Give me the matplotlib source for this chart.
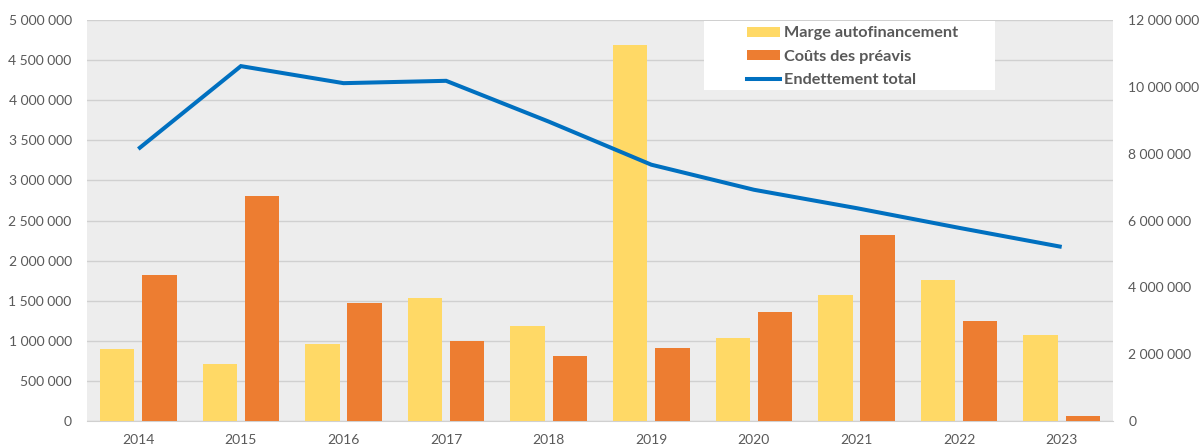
import matplotlib
matplotlib.use("Agg")
import matplotlib.pyplot as plt
import numpy as np
from matplotlib.patches import Patch, Rectangle
from matplotlib.lines import Line2D
from matplotlib.ticker import FuncFormatter, MultipleLocator

years = ["2014", "2015", "2016", "2017", "2018", "2019", "2020", "2021", "2022", "2023"]
marge = [898000, 716000, 954000, 1537000, 1190000, 4690000, 1040000, 1570000, 1760000, 1070000]
couts = [1816000, 2810000, 1466000, 995000, 808000, 912000, 1360000, 2320000, 1250000, 63000]
endettement = [8140000, 10620000, 10110000, 10180000, 8960000, 7670000, 6920000, 6370000, 5780000, 5210000]

C_YEL = "#FFD966"
C_ORA = "#ED7D31"
C_BLU = "#0070C0"
C_TXT = "#595959"
FONT = "Lato"

plt.rcParams["font.family"] = [FONT, "DejaVu Sans"]

fig = plt.figure(figsize=(12, 4.48), dpi=100)
ax = fig.add_axes([87/1200, 27/448, 1026/1200, 401/448])
ax2 = ax.twinx()

x = np.arange(len(years))
w = 0.335
ax.set_facecolor("#EDEDED")
ax.bar(x - 0.205, marge, w, color=C_YEL, zorder=3)
ax.bar(x + 0.205, couts, w, color=C_ORA, zorder=3)
ax2.plot(x, endettement, color=C_BLU, lw=2.9, solid_capstyle="butt", solid_joinstyle="miter", zorder=4)

ax.set_xlim(-0.5, len(years) - 0.5)
ax.set_ylim(0, 5000000)
ax2.set_ylim(0, 12000000)
ax.yaxis.set_major_locator(MultipleLocator(500000))
ax2.yaxis.set_major_locator(MultipleLocator(2000000))
fmt = FuncFormatter(lambda v, p: f"{int(round(v)):,}".replace(",", " "))
ax.yaxis.set_major_formatter(fmt)
ax2.yaxis.set_major_formatter(fmt)
ax.grid(axis="y", color="#D0D0D0", lw=1.0, zorder=1)
ax.set_axisbelow(True)

ax.set_xticks(x)
ax.set_xticklabels(years)
for a in (ax, ax2):
    for s in a.spines.values():
        s.set_visible(False)
    a.tick_params(length=0, labelsize=10, labelcolor=C_TXT)
ax.spines["bottom"].set_visible(True)
ax.spines["bottom"].set_color("#D0D0D0")
ax.tick_params(axis="y", pad=11)
ax.tick_params(axis="x", pad=9)
ax2.tick_params(axis="y", pad=11)

# legend background box
fig.patches.append(Rectangle((704/1200, 1 - 90/448), (995 - 704)/1200, (90 - 21)/448,
                             transform=fig.transFigure, facecolor="white", edgecolor="none",
                             zorder=5))

handles = [Patch(facecolor=C_YEL, edgecolor="none"),
           Patch(facecolor=C_ORA, edgecolor="none"),
           Line2D([], [], color=C_BLU, lw=2.9)]
labels = ["Marge autofinancement", "Coûts des préavis", "Endettement total"]
leg = fig.legend(handles, labels, loc="upper left", bbox_to_anchor=(747/1200, 1 - 26.5/448),
                 bbox_transform=fig.transFigure, frameon=False,
                 prop={"family": FONT, "weight": "bold", "size": 11.7},
                 handlelength=2.05, handleheight=0.62, handletextpad=0.25,
                 labelspacing=0.57, borderpad=0, borderaxespad=0)
for t in leg.get_texts():
    t.set_color(C_TXT)
leg.set_zorder(10)

fig.savefig("out.png", dpi=100, facecolor="white")
